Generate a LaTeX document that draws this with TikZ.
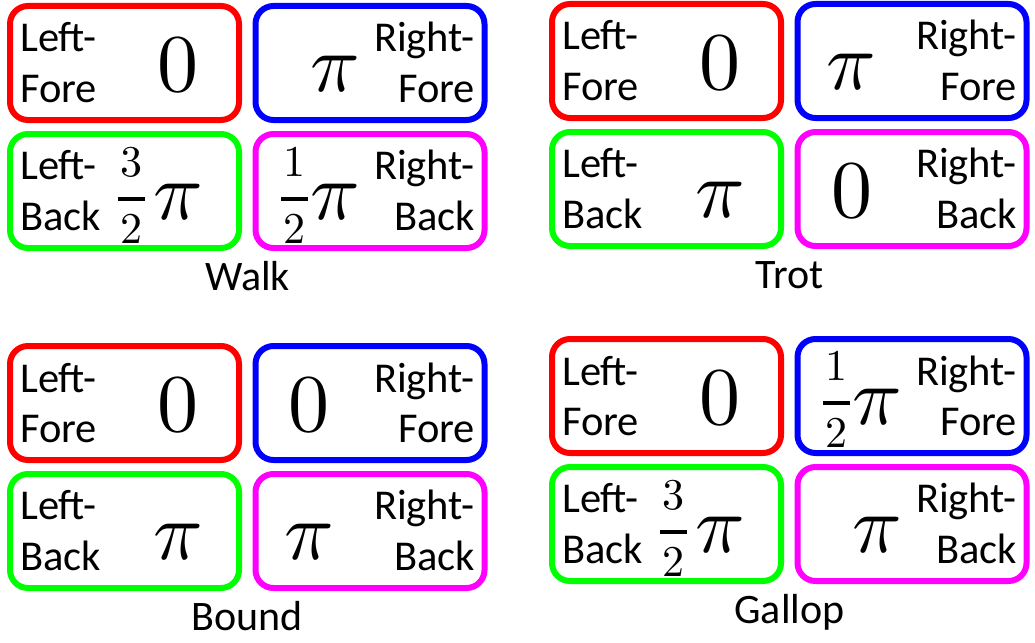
\documentclass[tikz,border=0pt]{standalone}
\usepackage{fontspec}
\setmainfont{Carlito}
\usepackage{unicode-math}
\setmathfont{Latin Modern Math}
\definecolor{legred}{RGB}{255,0,0}
\definecolor{legblue}{RGB}{0,0,255}
\definecolor{leggreen}{RGB}{0,255,0}
\definecolor{legmag}{RGB}{255,0,255}
\tikzset{
  legbox/.style={draw, line width=6pt, rounded corners=18pt, minimum width=229pt, minimum height=114pt, inner sep=0pt},
  word/.style={font=\fontsize{42.5}{50}\selectfont, inner sep=0pt},
  bigval/.style={font=\fontsize{82}{82}\selectfont, inner sep=0pt, anchor=base},
  smallval/.style={font=\fontsize{44}{44}\selectfont, inner sep=0pt, anchor=base},
  gaittitle/.style={font=\fontsize{42}{50}\selectfont, inner sep=0pt, anchor=base},
  fracbar/.style={line width=4pt},
}
\newcommand\gaitpanel[4]{%
  \node[legbox,draw=legred] (#1LF) at (#2+117.5,#3+60) {};
  \node[legbox,draw=legblue] (#1RF) at (#2+363,#3+60) {};
  \node[legbox,draw=leggreen] (#1LB) at (#2+117.5,#3+188) {};
  \node[legbox,draw=legmag] (#1RB) at (#2+363,#3+188) {};
  \node[word,anchor=base west] (#1LFa) at (#2+13,#3+49) {Left-};
  \node[word,anchor=base west] (#1LFb) at (#2+13,#3+99) {Fore};
  \node[word,anchor=base east] (#1RFa) at (#2+468,#3+49) {Right-};
  \node[word,anchor=base east] (#1RFb) at (#2+468,#3+99) {Fore};
  \node[word,anchor=base west] (#1LBa) at (#2+13,#3+176) {Left-};
  \node[word,anchor=base west] (#1LBb) at (#2+13,#3+227) {Back};
  \node[word,anchor=base east] (#1RBa) at (#2+468,#3+176) {Right-};
  \node[word,anchor=base east] (#1RBb) at (#2+468,#3+227) {Back};
  \node[gaittitle] (#1T) at (#2+240.5,#3+287) {#4};
}
\newcommand\fracval[4]{%
  \node[smallval] (#1n) at (#2,#3-23) {$#4$};
  \node[smallval] (#1d) at (#2,#3+44) {$2$};
  \draw[fracbar] (#2-13.5,#3) -- (#2+13.5,#3);
}
\begin{document}
\begin{tikzpicture}[x=1pt,y=-1pt]
\useasboundingbox (0,0) rectangle (1035,642);
% Walk
\gaitpanel{W}{7}{3}{Walk}
\node[bigval] (WLFv) at (178,91) {$0$};
\node[bigval] (WRFv) at (335,91) {$\pi$};
\fracval{WLBf}{131}{199}{3}
\node[bigval] (WLBv) at (178,219) {$\pi$};
\fracval{WRBf}{294.5}{199}{1}
\node[bigval] (WRBv) at (335,219) {$\pi$};
% Trot
\gaitpanel{T}{549}{1}{Trot}
\node[bigval] (TLFv) at (720,89) {$0$};
\node[bigval] (TRFv) at (851,89) {$\pi$};
\node[bigval] (TLBv) at (720,217) {$\pi$};
\node[bigval] (TRBv) at (852,217) {$0$};
% Bound
\gaitpanel{B}{7}{343}{Bound}
\node[bigval] (BLFv) at (178,431) {$0$};
\node[bigval] (BRFv) at (309,431) {$0$};
\node[bigval] (BLBv) at (178,559) {$\pi$};
\node[bigval] (BRBv) at (309,559) {$\pi$};
% Gallop
\gaitpanel{G}{549}{336}{Gallop}
\node[bigval] (GLFv) at (720,424) {$0$};
\fracval{GRFf}{836.5}{403}{1}
\node[bigval] (GRFv) at (877,424) {$\pi$};
\fracval{GLBf}{673}{532}{3}
\node[bigval] (GLBv) at (720,552) {$\pi$};
\node[bigval] (GRBv) at (877,552) {$\pi$};
\end{tikzpicture}
\end{document}
